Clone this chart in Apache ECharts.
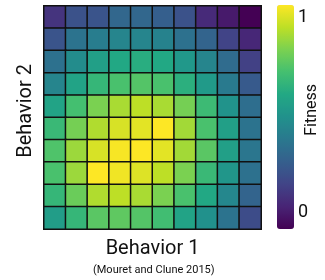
<!DOCTYPE html>
<html>
<head>
<meta charset="utf-8">
<script src="https://cdn.jsdelivr.net/npm/echarts@6/dist/echarts.min.js"></script>
<style>
  html, body { margin: 0; padding: 0; background: #fff; }
  #chart { width: 325px; height: 280px; }
</style>
</head>
<body>
<div id="chart"></div>
<script>
  // fitness per cell, rows listed top to bottom, columns left to right
  var rows = [
    [0.15, 0.25, 0.26, 0.33, 0.33, 0.30, 0.25, 0.12, 0.07, 0.00],
    [0.26, 0.38, 0.42, 0.45, 0.45, 0.44, 0.37, 0.32, 0.20, 0.11],
    [0.37, 0.48, 0.56, 0.60, 0.62, 0.60, 0.53, 0.45, 0.35, 0.19],
    [0.45, 0.58, 0.66, 0.71, 0.73, 0.71, 0.63, 0.54, 0.41, 0.28],
    [0.58, 0.70, 0.80, 0.87, 0.90, 0.87, 0.79, 0.68, 0.51, 0.36],
    [0.67, 0.79, 0.88, 0.94, 0.96, 1.00, 0.86, 0.71, 0.56, 0.38],
    [0.72, 0.85, 0.94, 0.99, 1.00, 0.96, 0.86, 0.74, 0.56, 0.39],
    [0.71, 0.85, 1.00, 0.98, 0.95, 0.90, 0.80, 0.67, 0.52, 0.37],
    [0.66, 0.77, 0.88, 0.90, 0.87, 0.80, 0.71, 0.60, 0.46, 0.32],
    [0.55, 0.66, 0.74, 0.75, 0.73, 0.69, 0.58, 0.50, 0.38, 0.23]
  ]
  var cols = ['0', '1', '2', '3', '4', '5', '6', '7', '8', '9']
  var rowNames = ['0', '1', '2', '3', '4', '5', '6', '7', '8', '9']
  var barTicks = ['1', '0']
  var viridis = ['#440154', '#482475', '#414487', '#355f8d', '#2a788e',
    '#21918c', '#22a884', '#44bf70', '#7ad151', '#bddf26', '#fde725']

  var cells = []
  rows.forEach(function (r, i) {
    r.forEach(function (v, j) {
      cells.push([j, i, v])
    })
  })

  var font = 'Roboto, "Noto Sans", sans-serif'
  var chart = echarts.init(document.getElementById('chart'))
  var option = {
    animation: false,
    grid: {
      left: 44,
      top: 6,
      width: 217,
      height: 223
    },
    xAxis: {
      type: 'category',
      data: cols,
      name: 'Behavior 1',
      nameLocation: 'middle',
      nameGap: 10,
      nameTextStyle: { fontFamily: font, fontSize: 20, color: '#111' },
      axisLine: { show: false },
      axisTick: { show: false },
      axisLabel: { show: false },
      splitArea: { show: false }
    },
    yAxis: {
      type: 'category',
      data: rowNames,
      inverse: true,
      axisLine: { show: false },
      axisTick: { show: false },
      axisLabel: { show: false }
    },
    visualMap: {
      type: 'continuous',
      min: 0,
      max: 1,
      calculable: false,
      orient: 'vertical',
      left: 277,
      top: 5,
      padding: 0,
      itemWidth: 17,
      itemHeight: 224,
      text: ['', ''],
      inRange: { color: viridis }
    },
    graphic: [
      {
        type: 'text', left: 16, top: 64, rotation: Math.PI / 2,
        style: { text: 'Behavior 2', fontFamily: font, fontSize: 20, fill: '#111' }
      },
      {
        type: 'text', left: 298, top: 8,
        style: { text: barTicks[0], fontFamily: font, fontSize: 18, fill: '#111' }
      },
      {
        type: 'text', left: 298, top: 203,
        style: { text: barTicks[1], fontFamily: font, fontSize: 18, fill: '#111' }
      },
      {
        type: 'text', left: 304, top: 84, rotation: Math.PI / 2,
        style: { text: 'Fitness', fontFamily: font, fontSize: 16, fill: '#111' }
      },
      {
        type: 'text', left: 93, top: 265,
        style: { text: '(Mouret and Clune 2015)', fontFamily: font, fontSize: 11, fill: '#111' }
      }
    ],
    series: [{
      type: 'heatmap',
      data: cells,
      itemStyle: { borderColor: '#111', borderWidth: 1.5 },
      emphasis: { disabled: true }
    }]
  }
  chart.setOption(option)
</script>
</body>
</html>
